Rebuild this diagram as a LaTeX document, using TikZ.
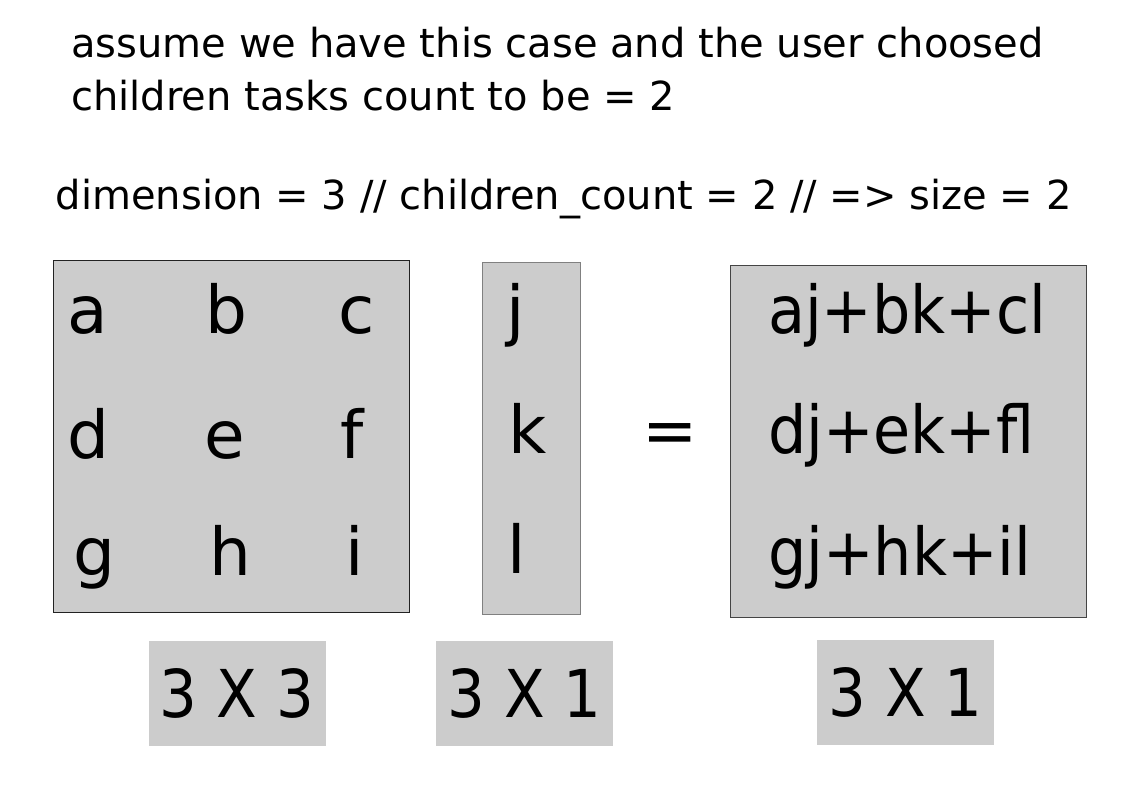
\documentclass[tikz,border=0pt]{standalone}
\usepackage{fontspec}
\setmainfont{DejaVu Sans}
\newfontfamily\condfont{DejaVu Sans}[FakeStretch=0.9]
\newfontfamily\rowfont{DejaVu Sans}[FakeStretch=0.915]
\definecolor{boxfill}{HTML}{CCCCCC}
\definecolor{edgeA}{HTML}{222222}
\definecolor{edgeB}{HTML}{808080}
\definecolor{edgeC}{HTML}{444444}
\tikzset{
  matbox/.style={rectangle, fill=boxfill, line width=0.9pt, inner sep=0pt, outer sep=0pt},
  dimbox/.style={rectangle, fill=boxfill, inner sep=0pt, outer sep=0pt, minimum width=177*0.75pt, minimum height=105*0.75pt, font=\condfont\fontsize{49.5}{59}\selectfont},
  big/.style={inner sep=0pt, outer sep=0pt, font=\fontsize{49.5}{59}\selectfont},
  cell/.style={big, anchor=base},
  row/.style={inner sep=0pt, outer sep=0pt, font=\rowfont\fontsize{49.5}{59}\selectfont, anchor=base west},
  heading/.style={inner sep=0pt, anchor=base west, font=\fontsize{30}{40}\selectfont},
}
\begin{document}
\begin{tikzpicture}[x=0.75pt, y=-0.75pt]
\useasboundingbox (0,0) rectangle (1123,794);
% headings
\node[heading] (t1) at (71,57.5) {assume we have this case and the user choosed};
\node[heading] (t2) at (71,110.7) {children tasks count to be = 2};
\node[heading] (t3) at (55.5,209.3) {dimension = 3 // children\_count = 2 // => size = 2};
% boxes
\node[matbox, draw=edgeA, minimum width=356*0.75pt, minimum height=352*0.75pt, anchor=north west] (A) at (53.5,260.5) {};
\node[matbox, draw=edgeB, minimum width=98*0.75pt, minimum height=352*0.75pt, anchor=north west] (B) at (482.5,262.5) {};
\node[matbox, draw=edgeC, minimum width=356*0.75pt, minimum height=352*0.75pt, anchor=north west] (C) at (730.5,265.5) {};
% matrix A entries
\node[cell] (a) at (88,333) {a};
\node[cell] (b) at (226,333) {b};
\node[cell] (c) at (357,333) {c};
\node[cell] (d) at (88.5,458.5) {d};
\node[cell] (e) at (224.5,458.5) {e};
\node[cell] (f) at (352.5,458.5) {f};
\node[cell] (g) at (94,575) {g};
\node[cell] (h) at (230,575) {h};
\node[cell] (i) at (354.5,575) {i};
% vector
\node[cell] (j) at (516,333) {j};
\node[cell] (k) at (528,453) {k};
\node[cell] (l) at (517,573.5) {l};
% equals
\node[cell] (eq) at (670.5,453.5) {=};
% result
\node[row] (r1) at (768,333.3) {aj+bk+cl};
\node[row] (r2) at (768,453.5) {dj+ek+fl};
\node[row] (r3) at (768,575) {gj+hk+il};
% dimension labels
\node[dimbox] (dA) at (237,693) {3 X 3};
\node[dimbox] (dB) at (524.5,693.5) {3 X 1};
\node[dimbox] (dC) at (905.5,692.5) {3 X 1};
\end{tikzpicture}
\end{document}
